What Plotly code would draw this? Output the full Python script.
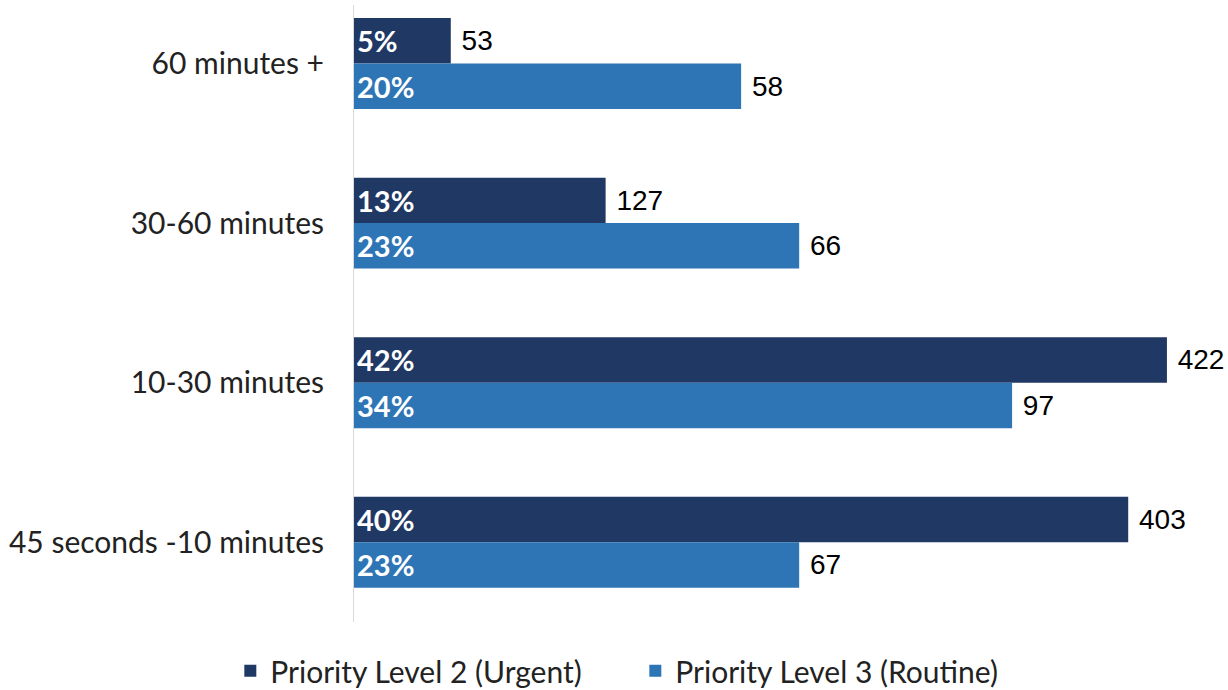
import plotly.graph_objects as go

# Response-time bands, listed from the top of the chart downwards
categories = ["60 minutes +", "30-60 minutes", "10-30 minutes", "45 seconds -10 minutes"]

# Share of calls in each band (%) and the underlying call counts
urgent_pct = [5, 13, 42, 40]
urgent_count = [53, 127, 422, 403]
routine_pct = [20, 23, 34, 23]
routine_count = [58, 66, 97, 67]

series_names = ["Priority Level 2 (Urgent)", "Priority Level 3 (Routine)"]
colors = ["#203864", "#2E75B6"]

pct_font = dict(family="Lato", size=29, color="white", weight="bold")
count_font = dict(family="Liberation Sans", size=28, color="#000000")

fig = go.Figure()

for name, pct, counts, color, grp in [
    (series_names[0], urgent_pct, urgent_count, colors[0], "urgent"),
    (series_names[1], routine_pct, routine_count, colors[1], "routine"),
]:
    # Coloured bar carrying the percentage label inside
    fig.add_trace(go.Bar(
        y=categories, x=pct, orientation="h", name=name,
        marker=dict(color=color, line=dict(width=0)),
        offsetgroup=grp,
        text=[f"{p}%" for p in pct], textposition="inside",
        insidetextanchor="start", insidetextfont=pct_font,
        constraintext="none", cliponaxis=False, hoverinfo="skip",
    ))
    # Transparent twin bar carrying the call count just past the bar end
    fig.add_trace(go.Bar(
        y=categories, x=pct, orientation="h", name=name, showlegend=False,
        marker=dict(color="rgba(0,0,0,0)", line=dict(width=0)),
        offsetgroup=grp,
        text=[f"\u00a0{c}" for c in counts], textposition="outside",
        outsidetextfont=count_font,
        constraintext="none", cliponaxis=False, hoverinfo="skip",
    ))

fig.update_layout(
    width=1228, height=690,
    margin=dict(l=354, r=3, t=5, b=68, autoexpand=False),
    paper_bgcolor="white", plot_bgcolor="white",
    barmode="group", bargap=0.43, bargroupgap=0,
    showlegend=True,
    legend=dict(
        orientation="h", x=-0.142, xanchor="left", y=-0.037, yanchor="top",
        font=dict(family="Lato", size=30, color="#222222"),
        traceorder="normal", itemwidth=30, entrywidth=360,
    ),
    xaxis=dict(
        range=[0, 45], showgrid=False, zeroline=False,
        showticklabels=False, showline=False, ticks="",
    ),
    yaxis=dict(
        type="category", categoryorder="array", categoryarray=categories,
        range=[3.5, -0.367],
        showgrid=False, zeroline=False, ticks="",
        showline=True, linecolor="#D9D9D9", linewidth=1,
        tickfont=dict(family="Lato", size=30, color="#222222"),
        ticklabelstandoff=23,
    ),
)

fig.write_html("out.html")
